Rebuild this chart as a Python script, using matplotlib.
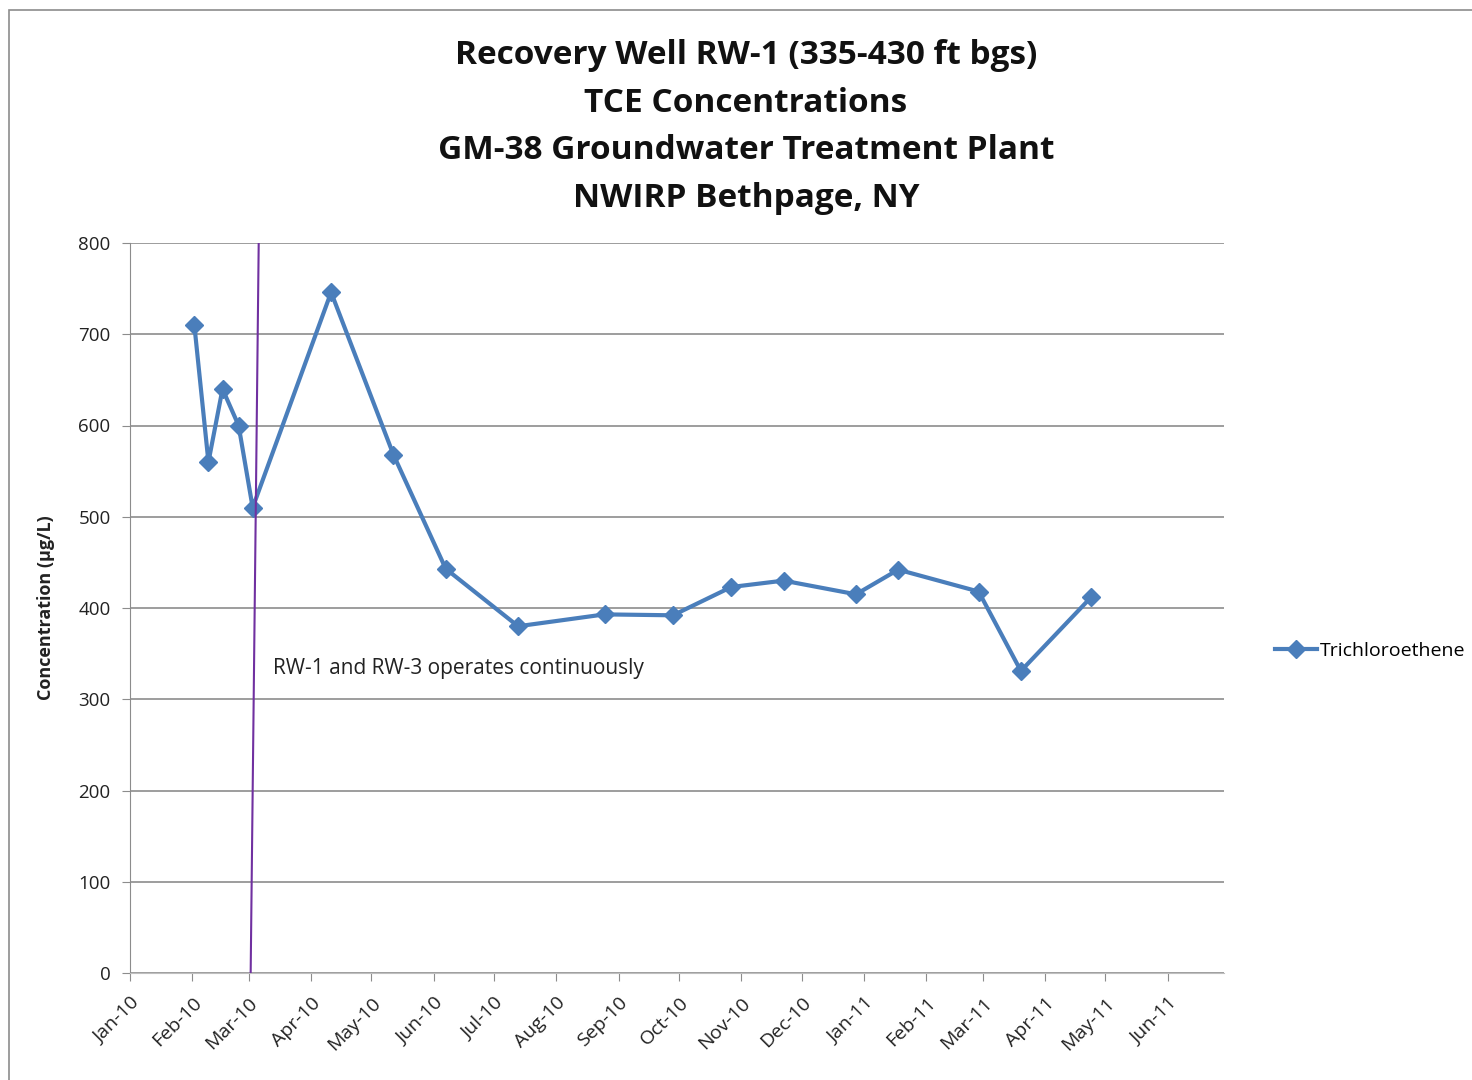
import matplotlib.pyplot as plt
import matplotlib.dates as mdates
from matplotlib.patches import Rectangle
import pandas as pd

plt.rcParams['font.family'] = ['Open Sans', 'DejaVu Sans']

# sample dates and TCE values
sample_dates = ["2010-02-02", "2010-02-09", "2010-02-16", "2010-02-24", "2010-03-03",
                "2010-04-11", "2010-05-12", "2010-06-07", "2010-07-13", "2010-08-25",
                "2010-09-28", "2010-10-27", "2010-11-22", "2010-12-28", "2011-01-18",
                "2011-02-27", "2011-03-20", "2011-04-24"]
tce_values = [710, 560, 640, 600, 510,
              746, 568, 443, 380, 393,
              392, 423, 430, 415, 442,
              418, 331, 412]

event_dates = ["2010-03-02", "2010-03-06"]  # slanted marker line, bottom -> top
event_values = [0, 800]
event_label = "RW-1 and RW-3 operates continuously"

title_lines = ["Recovery Well RW-1 (335-430 ft bgs)", "TCE Concentrations",
               "GM-38 Groundwater Treatment Plant", "NWIRP Bethpage, NY"]

dates = pd.to_datetime(sample_dates)
ev = pd.to_datetime(event_dates)

fig = plt.figure(figsize=(14.72, 10.8), dpi=100)
fig.patches.append(Rectangle((9 / 1472, -0.01), 1.0, 1 - 10 / 1080 + 0.01,
                             transform=fig.transFigure, fill=False,
                             edgecolor='#8c8c8c', linewidth=1.2))
ax = fig.add_axes([130 / 1472, 107 / 1080, 1094 / 1472, 730 / 1080])

ax.plot(dates, tce_values, color='#4a7ebb', linewidth=3, marker='D',
        markersize=9, label='Trichloroethene', zorder=3)
ax.plot(ev, event_values, color='#7030a0', linewidth=1.5, zorder=4)
ax.text(pd.Timestamp("2010-03-13"), 334, event_label, fontsize=15,
        va='center', ha='left', color='#222222')

ax.set_ylim(0, 800)
ax.set_yticks(range(0, 801, 100))
ax.set_xlim(pd.Timestamp("2010-01-01"), pd.Timestamp("2011-06-29"))
ax.xaxis.set_major_locator(mdates.MonthLocator())
ax.xaxis.set_major_formatter(mdates.DateFormatter('%b-%y'))
for lab in ax.get_xticklabels():
    lab.set_rotation(45)
    lab.set_ha('right')
    lab.set_rotation_mode('anchor')

ax.grid(axis='y', color='#8c8c8c', linewidth=1.2)
ax.set_axisbelow(True)
for s in ['top', 'right']:
    ax.spines[s].set_visible(False)
ax.spines['left'].set_color('#8c8c8c')
ax.spines['bottom'].set_color('#bfbfbf')
ax.tick_params(axis='both', colors='#8c8c8c', length=6, labelsize=13.5,
               labelcolor='#222222')
ax.tick_params(axis='x', pad=9, labelsize=14)
ax.tick_params(axis='y', pad=8)

ax.set_ylabel("Concentration (µg/L)", fontsize=13, fontweight='bold',
              color='#222222')
ax.yaxis.set_label_coords(-75 / 1094, 0.5)

fig.text(746 / 1472, 1 - 127 / 1080, "\n".join(title_lines), fontsize=24,
         fontweight='bold', ha='center', va='center', linespacing=1.58,
         color='#111111')

ax.legend(loc='center left', bbox_to_anchor=(1257 / 1472, 1 - 651 / 1080),
          bbox_transform=fig.transFigure, frameon=False, fontsize=14,
          handlelength=2.2, handletextpad=0.15)

fig.savefig("out.png", dpi=100)
